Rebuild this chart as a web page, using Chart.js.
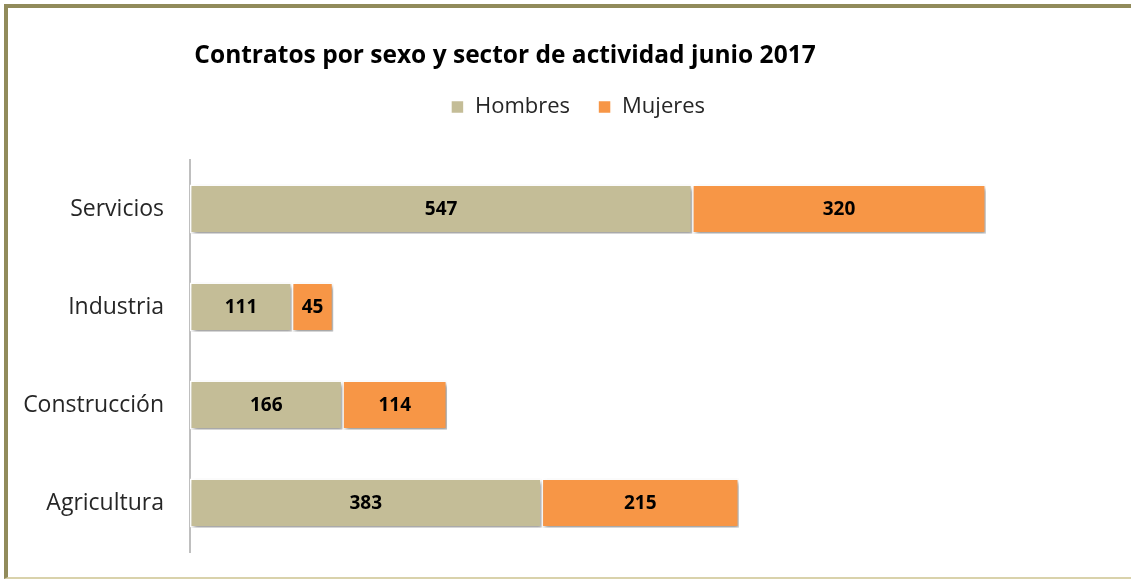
<!DOCTYPE html>
<html>
<head>
<meta charset="utf-8">
<script src="https://cdn.jsdelivr.net/npm/chart.js@4"></script>
<style>
  html, body { margin: 0; padding: 0; background: #fff; }
  #wrap { position: relative; width: 1131px; height: 581px; }
  canvas { display: block; }
  #frame {
    position: absolute; left: 4px; top: 4px; width: 1127px; height: 569px;
    border-top: 4px solid #918b5b; border-left: 4px solid #918b5b;
    border-bottom: 2px solid #d9d2ab; pointer-events: none;
  }
</style>
</head>
<body>
<div id="wrap">
  <canvas id="chart" width="1131" height="581"></canvas>
  <div id="frame"></div>
</div>
<script>
// data
const sectors = ['Servicios', 'Industria', 'Construcción', 'Agricultura'];
const hombres = [547, 111, 166, 383];
const mujeres = [320, 45, 114, 215];
const seriesNames = ['Hombres', 'Mujeres'];
const seriesColors = ['#c4bd97', '#f79646'];
const chartTitle = 'Contratos por sexo y sector de actividad junio 2017';

const fontFamily = '"Open Sans", sans-serif';

// title sits a bit left of centre, so it is drawn here
const titleText = {
  id: 'titleText',
  afterDraw(chart) {
    const ctx = chart.ctx;
    ctx.save();
    ctx.font = 'bold 24.5px ' + fontFamily;
    ctx.fillStyle = '#000';
    ctx.textAlign = 'center';
    ctx.textBaseline = 'middle';
    ctx.fillText(chartTitle, 505, 56);
    ctx.restore();
  }
};

// soft shadow under the bars
const shadowPlugin = {
  id: 'barShadow',
  beforeDatasetsDraw(chart) {
    const ctx = chart.ctx;
    ctx.save();
    ctx.shadowColor = 'rgba(0,0,0,0.38)';
    ctx.shadowBlur = 4;
    ctx.shadowOffsetX = 2;
    ctx.shadowOffsetY = 3;
  },
  afterDatasetsDraw(chart) {
    chart.ctx.restore();
  }
};

// value labels in the middle of each segment
const valueLabels = {
  id: 'valueLabels',
  afterDraw(chart) {
    const ctx = chart.ctx;
    ctx.save();
    ctx.font = 'bold 19px ' + fontFamily;
    ctx.fillStyle = '#000';
    ctx.textAlign = 'center';
    ctx.textBaseline = 'middle';
    chart.data.datasets.forEach((ds, i) => {
      chart.getDatasetMeta(i).data.forEach((bar, j) => {
        const x = (bar.x + bar.base) / 2;
        ctx.fillText(ds.data[j], x, bar.y + 1);
      });
    });
    ctx.restore();
  }
};

// fixed legend height so the plot starts at the right place,
// and the legend nudged right like in the original
const legendGap = {
  id: 'legendGap',
  beforeInit(chart) {
    const fit = chart.legend.fit;
    chart.legend.fit = function () {
      fit.bind(chart.legend)();
      this.height = 160 - 68;
    };
  },
  afterLayout(chart) {
    chart.legend.left += 24;
    chart.legend.right += 24;
  }
};

new Chart(document.getElementById('chart').getContext('2d'), {
  type: 'bar',
  data: {
    labels: sectors,
    datasets: [
      { label: seriesNames[0], data: hombres, backgroundColor: seriesColors[0] },
      { label: seriesNames[1], data: mujeres, backgroundColor: seriesColors[1] }
    ]
  },
  options: {
    indexAxis: 'y',
    responsive: false,
    animation: false,
    datasets: {
      bar: {
        categoryPercentage: 1,
        barPercentage: 0.5,
        borderColor: '#ffffff',
        borderWidth: 1.5,
        borderSkipped: false
      }
    },
    layout: { padding: { top: 68, right: 23, bottom: 29, left: 0 } },
    scales: {
      x: {
        stacked: true,
        display: false,
        min: 0,
        max: 1000
      },
      y: {
        stacked: true,
        grid: { display: false, drawTicks: false },
        border: { display: true, color: '#bfbfbf', width: 2 },
        ticks: {
          padding: 26,
          color: '#262626',
          font: { family: fontFamily, size: 23 }
        },
        afterFit(scale) {
          scale.width = 190;
          scale.paddingTop = 0;
          scale.paddingBottom = 0;
        }
      }
    },
    plugins: {
      title: { display: false },
      legend: {
        display: true,
        labels: {
          color: '#262626',
          font: { family: fontFamily, size: 22 },
          boxWidth: 13,
          boxHeight: 13,
          padding: 28
        }
      },
      tooltip: { enabled: false }
    }
  },
  plugins: [legendGap, shadowPlugin, valueLabels, titleText]
});
</script>
</body>
</html>
